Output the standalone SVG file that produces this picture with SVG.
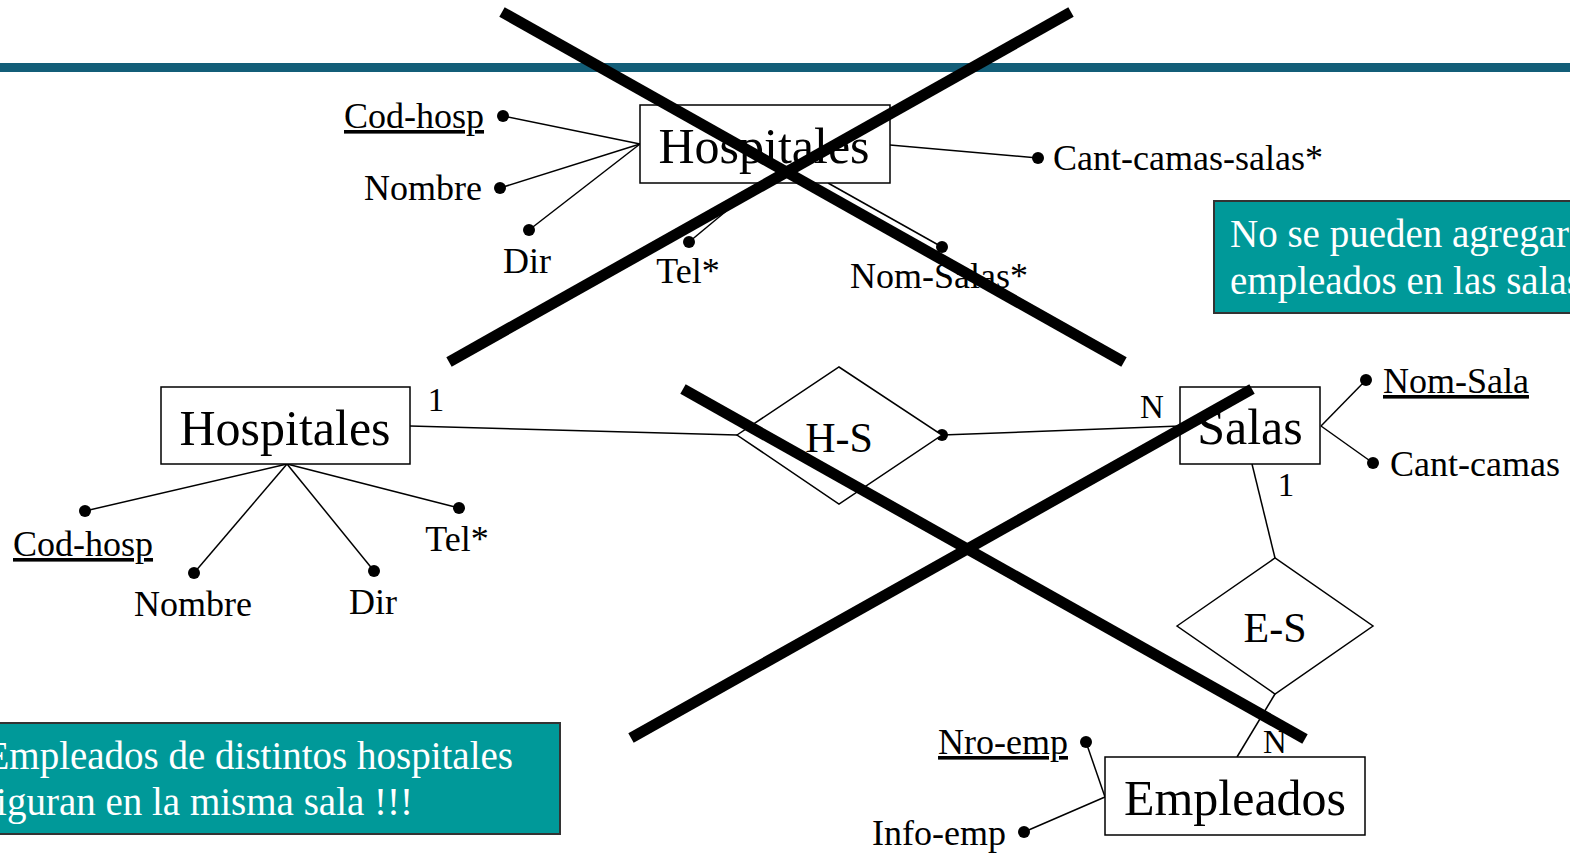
<svg xmlns="http://www.w3.org/2000/svg" width="1570" height="854" viewBox="0 0 1570 854">
<style>
text{font-family:"Liberation Serif","Times New Roman",serif;fill:#000}
.ent{fill:#fff;stroke:#000;stroke-width:1.5}
.rel{fill:#fff;stroke:#000;stroke-width:1.5}
.big{font-size:50px;text-anchor:middle}
.mid{font-size:42px;text-anchor:middle}
.att{font-size:36px}
.card{font-size:33px}
.u{text-decoration:underline}
.ln{stroke:#000;stroke-width:1.5;fill:none}
.note{fill:#009999;stroke:#333;stroke-width:2}
.nt{font-size:39px;fill:#fff}
.x{stroke:#000;stroke-width:11;stroke-linecap:butt}
</style>
<defs>
<circle id="dot" r="6" fill="#000"/>
</defs>
<rect x="0" y="63" width="1570" height="9" fill="#135e78"/>

<g id="connectors">
<line class="ln" x1="640" y1="144" x2="503" y2="116"/>
<line class="ln" x1="640" y1="144" x2="500" y2="188"/>
<line class="ln" x1="640" y1="144" x2="529" y2="230"/>
<line class="ln" x1="760" y1="183" x2="689" y2="242"/>
<line class="ln" x1="828" y1="183" x2="942" y2="247"/>
<line class="ln" x1="890" y1="145" x2="1038" y2="158"/>
<use href="#dot" x="503" y="116"/>
<use href="#dot" x="500" y="188"/>
<use href="#dot" x="529" y="230"/>
<use href="#dot" x="689" y="242"/>
<use href="#dot" x="942" y="247"/>
<use href="#dot" x="1038" y="158"/>
<line class="ln" x1="287" y1="464" x2="85" y2="511"/>
<line class="ln" x1="287" y1="464" x2="194" y2="573"/>
<line class="ln" x1="287" y1="464" x2="374" y2="571"/>
<line class="ln" x1="287" y1="464" x2="459" y2="508"/>
<use href="#dot" x="85" y="511"/>
<use href="#dot" x="194" y="573"/>
<use href="#dot" x="374" y="571"/>
<use href="#dot" x="459" y="508"/>
<line class="ln" x1="410" y1="426" x2="737" y2="435"/>
<line class="ln" x1="942" y1="435" x2="1180" y2="426"/>
<use href="#dot" x="942" y="435"/>
<line class="ln" x1="1252" y1="464" x2="1275" y2="558"/>
<line class="ln" x1="1275" y1="694" x2="1237" y2="757"/>
<line class="ln" x1="1321" y1="426" x2="1366" y2="380"/>
<line class="ln" x1="1321" y1="426" x2="1373" y2="463"/>
<use href="#dot" x="1366" y="380"/>
<use href="#dot" x="1373" y="463"/>
<line class="ln" x1="1105" y1="797" x2="1086" y2="742"/>
<line class="ln" x1="1105" y1="797" x2="1024" y2="832"/>
<use href="#dot" x="1086" y="742"/>
<use href="#dot" x="1024" y="832"/>
</g>

<g id="hospitales-top">
<rect class="ent" x="640" y="105" width="250" height="78"/>
<text class="big" x="764" y="163">Hospitales</text>
</g>
<g id="attrs-top">
<text class="att u" x="344" y="128">Cod-hosp</text>
<text class="att" x="482" y="200" text-anchor="end">Nombre</text>
<text class="att" x="527" y="273" text-anchor="middle">Dir</text>
<text class="att" x="688" y="283" text-anchor="middle">Tel*</text>
<text class="att" x="850" y="288">Nom-Salas*</text>
<text class="att" x="1053" y="170">Cant-camas-salas*</text>
</g>

<g id="note-right">
<rect class="note" x="1214" y="201" width="370" height="112"/>
<text class="nt" x="1230" y="247">No se pueden agregar</text>
<text class="nt" x="1230" y="294">empleados en las salas</text>
</g>

<g id="hospitales">
<rect class="ent" x="161" y="387" width="249" height="77"/>
<text class="big" x="285" y="445">Hospitales</text>
</g>
<g id="attrs-hosp">
<text class="att u" x="13" y="556">Cod-hosp</text>
<text class="att" x="193" y="616" text-anchor="middle">Nombre</text>
<text class="att" x="373" y="614" text-anchor="middle">Dir</text>
<text class="att" x="457" y="551" text-anchor="middle">Tel*</text>
<text class="card" x="436" y="411" text-anchor="middle">1</text>
</g>

<g id="hs">
<polygon class="rel" points="737,435 839,367 942,435 839,504"/>
<text class="mid" x="839" y="452">H-S</text>
</g>

<g id="salas">
<rect class="ent" x="1180" y="387" width="140" height="77"/>
<text class="big" x="1250" y="444">Salas</text>
<text class="card" x="1152" y="418" text-anchor="middle">N</text>
<text class="card" x="1286" y="496" text-anchor="middle">1</text>
<text class="att u" x="1383" y="393">Nom-Sala</text>
<text class="att" x="1390" y="476">Cant-camas</text>
</g>

<g id="es">
<polygon class="rel" points="1177,626 1275,558 1373,626 1275,694"/>
<text class="mid" x="1275" y="642">E-S</text>
</g>

<g id="empleados">
<rect class="ent" x="1105" y="757" width="260" height="78"/>
<text class="big" x="1235" y="815">Empleados</text>
<text class="card" x="1275" y="753" text-anchor="middle">N</text>
<text class="att u" x="1068" y="754" text-anchor="end">Nro-emp</text>
<text class="att" x="1006" y="845" text-anchor="end">Info-emp</text>
</g>

<g id="note-left">
<rect class="note" x="-20" y="723" width="580" height="111"/>
<text class="nt" x="513" y="769" text-anchor="end">Empleados de distintos hospitales</text>
<text class="nt" x="413" y="815" text-anchor="end">figuran en la misma sala !!!</text>
</g>

<g id="crosses">
<line class="x" x1="502" y1="12" x2="1124" y2="362"/>
<line class="x" x1="1071" y1="12" x2="449" y2="362"/>
<line class="x" x1="683" y1="389" x2="1305" y2="739"/>
<line class="x" x1="1252" y1="389" x2="631" y2="738"/>
</g>
</svg>
